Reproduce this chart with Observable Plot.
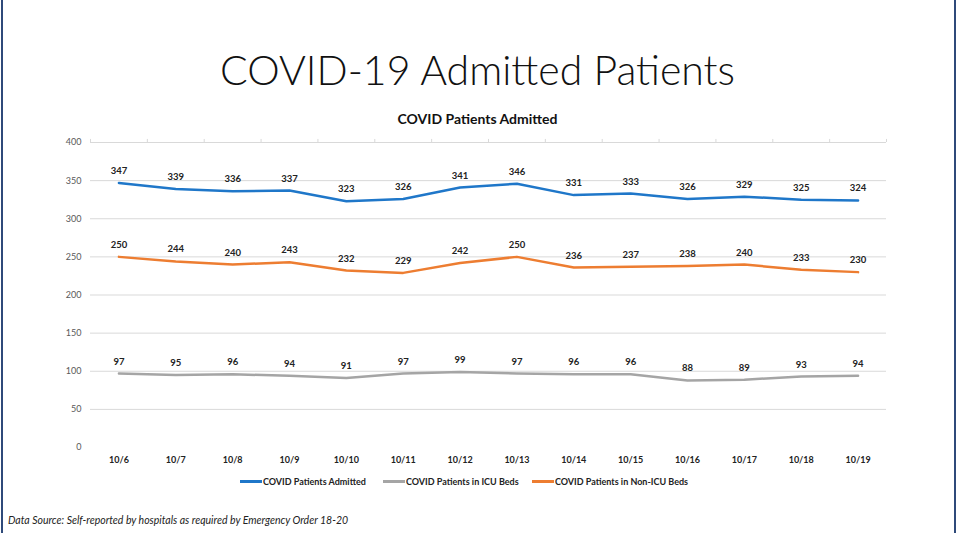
<!DOCTYPE html>
<html>
<head>
<meta charset="utf-8">
<script src="https://cdn.jsdelivr.net/npm/d3@7"></script>
<script src="https://cdn.jsdelivr.net/npm/@observablehq/plot@0.6"></script>
<style>
  html, body { margin: 0; padding: 0; background: #fff; }
  #page { position: relative; width: 960px; height: 533px; overflow: hidden; background: #fff; font-family: Lato, "Open Sans", sans-serif; }
  .border { position: absolute; top: 0; bottom: 0; width: 2px; background: #2f4a7a; }
  #title { position: absolute; left: 0; width: 955px; top: 49px; text-align: center; font-size: 41px; font-weight: 300; color: #111; line-height: 1; }
  #subtitle { position: absolute; left: 0; width: 955px; top: 110px; text-align: center; font-size: 14px; font-weight: 700; color: #111; }
  #chart { position: absolute; left: 0; top: 130px; }
  #legend { position: absolute; top: 474px; left: 0; width: 960px; height: 14px; font-size: 9px; font-weight: 700; color: #222; }
  .item { position: absolute; top: 0; display: flex; align-items: center; height: 14px; }
  .sw { display: inline-block; width: 22px; height: 3px; margin-right: 1px; }
  #caption { position: absolute; left: 8px; top: 514px; font-size: 10.5px; font-style: italic; color: #222; }
</style>
</head>
<body>
<div id="page">
  <div class="border" style="left:1px"></div>
  <div class="border" style="left:954px"></div>
  <div id="title">COVID-19 Admitted Patients</div>
  <div id="subtitle">COVID Patients Admitted</div>
  <div id="chart"></div>
  <div id="legend"></div>
  <div id="caption">Data Source: Self-reported by hospitals as required by Emergency Order 18-20</div>
</div>
<script>
const dates = ["10/6","10/7","10/8","10/9","10/10","10/11","10/12","10/13","10/14","10/15","10/16","10/17","10/18","10/19"];
const admitted = [347,339,336,337,323,326,341,346,331,333,326,329,325,324];
const icu = [97,95,96,94,91,97,99,97,96,96,88,89,93,94];
const nonIcu = [250,244,240,243,232,229,242,250,236,237,238,240,233,230];
const seriesNames = ["COVID Patients Admitted","COVID Patients in ICU Beds","COVID Patients in Non-ICU Beds"];
const seriesColors = ["#1f77c9","#a5a5a5","#ed7d31"];
const yTicks = [0,50,100,150,200,250,300,350,400];

const idx = dates.map((d, i) => i);
const rows = [];
[admitted, icu, nonIcu].forEach((vals, s) => {
  vals.forEach((v, i) => rows.push({series: seriesNames[s], i, date: dates[i], value: v}));
});
const bounds = d3.range(-0.5, dates.length, 1);

const chart = Plot.plot({
  width: 960,
  height: 345,
  marginLeft: 90,
  marginRight: 74,
  marginTop: 12,
  marginBottom: 28,
  style: {fontFamily: "Lato, 'Open Sans', sans-serif", background: "transparent"},
  x: {domain: [-0.5, dates.length - 0.5], axis: null},
  y: {domain: [0, 400], axis: null},
  color: {domain: seriesNames, range: seriesColors},
  marks: [
    Plot.gridY(yTicks.filter(t => t > 0), {stroke: "#d9d9d9", strokeOpacity: 1, strokeWidth: 1}),
    Plot.ruleX(bounds, {x: d => d, y1: 400, y2: 404, stroke: "#d9d9d9"}),
    Plot.axisY(yTicks, {tickSize: 0, tickPadding: 9, fontSize: 9, fill: "#595959", label: null}),
    Plot.axisX(idx, {tickSize: 0, tickPadding: 9, tickFormat: i => dates[i], fontSize: 9, fontWeight: 700, fill: "#222", label: null}),
    Plot.line(rows, {x: "i", y: "value", z: "series", stroke: "series", strokeWidth: 2.5}),
    Plot.text(rows, {x: "i", y: "value", text: d => String(d.value), dy: -12, fontSize: 9.5, fontWeight: 700, fill: "#222"})
  ]
});
document.getElementById("chart").appendChild(chart);

const legend = document.getElementById("legend");
const lx = [240, 383, 532];
seriesNames.forEach((n, s) => {
  const it = document.createElement("div");
  it.className = "item";
  it.style.left = lx[s] + "px";
  const sw = document.createElement("span");
  sw.className = "sw";
  sw.style.background = seriesColors[s];
  it.appendChild(sw);
  const t = document.createElement("span");
  t.textContent = n;
  it.appendChild(t);
  legend.appendChild(it);
});
</script>
</body>
</html>
